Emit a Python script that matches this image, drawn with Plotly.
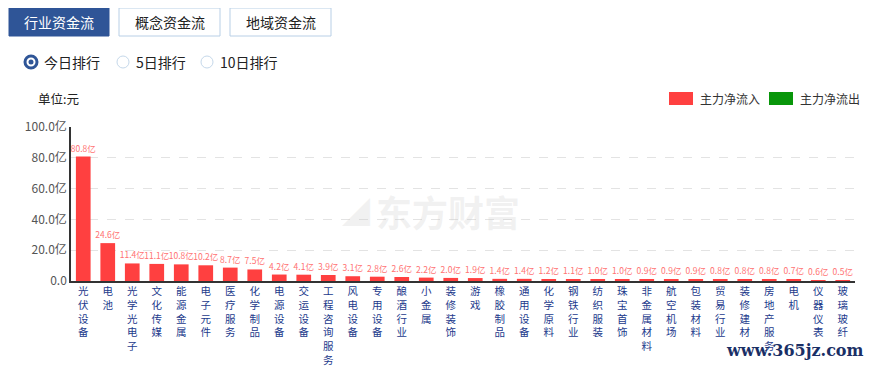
import plotly.graph_objects as go

categories = ["光伏设备", "电池", "光学光电子", "文化传媒", "能源金属", "电子元件", "医疗服务", "化学制品",
              "电源设备", "交运设备", "工程咨询服务", "风电设备", "专用设备", "酿酒行业", "小金属", "装修装饰",
              "游戏", "橡胶制品", "通用设备", "化学原料", "钢铁行业", "纺织服装", "珠宝首饰", "非金属材料",
              "航空机场", "包装材料", "贸易行业", "装修建材", "房地产服务", "电机", "仪器仪表", "玻璃玻纤"]
inflow = [80.8, 24.6, 11.4, 11.1, 10.8, 10.2, 8.7, 7.5, 4.2, 4.1, 3.9, 3.1, 2.8, 2.6, 2.2, 2.0,
          1.9, 1.4, 1.4, 1.2, 1.1, 1.0, 1.0, 0.9, 0.9, 0.9, 0.8, 0.8, 0.8, 0.7, 0.6, 0.5]
y_ticks = [0, 20, 40, 60, 80, 100]
y_tick_labels = ["0.0", "20.0亿", "40.0亿", "60.0亿", "80.0亿", "100.0亿"]
buttons = ["行业资金流", "概念资金流", "地域资金流"]
radios = ["今日排行", "5日排行", "10日排行"]
legend_names = ["主力净流入", "主力净流出"]

# page has an 8px body margin; size the figure so it fills the window exactly
OFF = 8
W, H = 872 - OFF, 366 - OFF
# plot area in page pixels
PL, PR, PT, PB = 71, 855, 127, 281
FONT = "Microsoft YaHei, Noto Sans CJK SC, sans-serif"
RED = "#ff4040"
GREEN = "#08960a"

fig = go.Figure()
fig.add_trace(go.Bar(
    x=list(range(len(categories))), y=inflow,
    marker=dict(color=RED, line=dict(width=0)),
    text=[f"{v:.1f}亿" for v in inflow], textposition="outside",
    constraintext="none",
    textfont=dict(size=8.5, color="#ff7272", family=FONT),
    cliponaxis=False, hoverinfo="skip", showlegend=False,
))

def px(x):
    return (x - PL) / (PR - PL)

def py(y):
    return (PB - y) / (PB - PT)

shapes = []
annotations = []

# buttons
bx = [(9, 109), (119, 220), (230, 331)]
for i, (name, (x0, x1)) in enumerate(zip(buttons, bx)):
    active = i == 0
    shapes.append(dict(type="rect", xref="paper", yref="paper",
                       x0=px(x0), x1=px(x1), y0=py(36), y1=py(8),
                       fillcolor="#2f5597" if active else "white",
                       line=dict(color="#2f5597" if active else "#b8cfe6", width=1)))
    annotations.append(dict(text=name, xref="paper", yref="paper", x=px((x0 + x1) / 2), y=py(22),
                            showarrow=False, xanchor="center", yanchor="middle",
                            font=dict(size=14, color="white" if active else "#222", family=FONT)))

# radios
rx = [(31, 42), (123, 134), (207, 218)]
for i, (name, (cx, tx)) in enumerate(zip(radios, rx)):
    r = 6
    shapes.append(dict(type="circle", xref="paper", yref="paper",
                       x0=px(cx - r), x1=px(cx + r), y0=py(62 + r), y1=py(62 - r),
                       fillcolor="white", line=dict(color="#2f5597" if i == 0 else "#c5d8ea", width=3 if i == 0 else 1)))
    if i == 0:
        shapes.append(dict(type="circle", xref="paper", yref="paper",
                           x0=px(cx - 2.5), x1=px(cx + 2.5), y0=py(62 + 2.5), y1=py(62 - 2.5),
                           fillcolor="#2f5597", line=dict(width=0)))
    annotations.append(dict(text=name, xref="paper", yref="paper", x=px(tx), y=py(62),
                            showarrow=False, xanchor="left", yanchor="middle",
                            font=dict(size=14, color="#222", family=FONT)))

# unit label
annotations.append(dict(text="单位:元", xref="paper", yref="paper", x=px(36), y=py(98),
                        showarrow=False, xanchor="left", yanchor="middle",
                        font=dict(size=12.5, color="#222", family=FONT)))

# legend
for (x0, color), name in zip([(669, RED), (769, GREEN)], legend_names):
    shapes.append(dict(type="rect", xref="paper", yref="paper",
                       x0=px(x0), x1=px(x0 + 24), y0=py(105), y1=py(92),
                       fillcolor=color, line=dict(width=0)))
    annotations.append(dict(text=name, xref="paper", yref="paper", x=px(x0 + 29), y=py(98),
                            showarrow=False, xanchor="left", yanchor="middle",
                            font=dict(size=12, color="#333", family=FONT)))

# watermark
annotations.append(dict(text="<b>东方财富</b>", xref="paper", yref="paper", x=px(374), y=py(211),
                        showarrow=False, xanchor="left", yanchor="middle",
                        font=dict(size=36, color="rgba(200,200,200,0.25)", family=FONT)))
annotations.append(dict(text="<b>◢</b>", xref="paper", yref="paper", x=px(340), y=py(211),
                        showarrow=False, xanchor="left", yanchor="middle",
                        font=dict(size=28, color="rgba(200,200,200,0.25)", family=FONT)))
annotations.append(dict(text="<b>www.365jz.com</b>", xref="paper", yref="paper", x=px(866), y=py(350),
                        showarrow=False, xanchor="right", yanchor="middle",
                        font=dict(size=16, color="#1a2f66", family="DejaVu Serif, serif")))

fig.update_layout(
    width=W, height=H,
    margin=dict(l=PL - OFF, r=872 - PR, t=PT - OFF, b=366 - PB, autoexpand=False),
    paper_bgcolor="white", plot_bgcolor="white",
    bargap=0.4,
    font=dict(family=FONT),
    shapes=shapes, annotations=annotations,
    xaxis=dict(
        tickmode="array", tickvals=list(range(len(categories))),
        ticktext=["<br>".join(list(c)) for c in categories],
        tickfont=dict(size=10.5, color="#1c3a8c", family=FONT),
        range=[-0.5, len(categories) - 0.5],
        showline=True, linecolor="#333", linewidth=1.5,
        ticks="", showgrid=False, zeroline=False, tickangle=0,
    ),
    yaxis=dict(
        range=[0, 100], tickmode="array", tickvals=y_ticks, ticktext=y_tick_labels,
        tickfont=dict(size=12, color="#555", family=FONT),
        showline=True, linecolor="#333", linewidth=1.5,
        showgrid=True, gridcolor="#e3e3e3", griddash="dash", gridwidth=1,
        zeroline=False, ticks="", ticklen=0,
    ),
)

fig.write_html("out.html")
